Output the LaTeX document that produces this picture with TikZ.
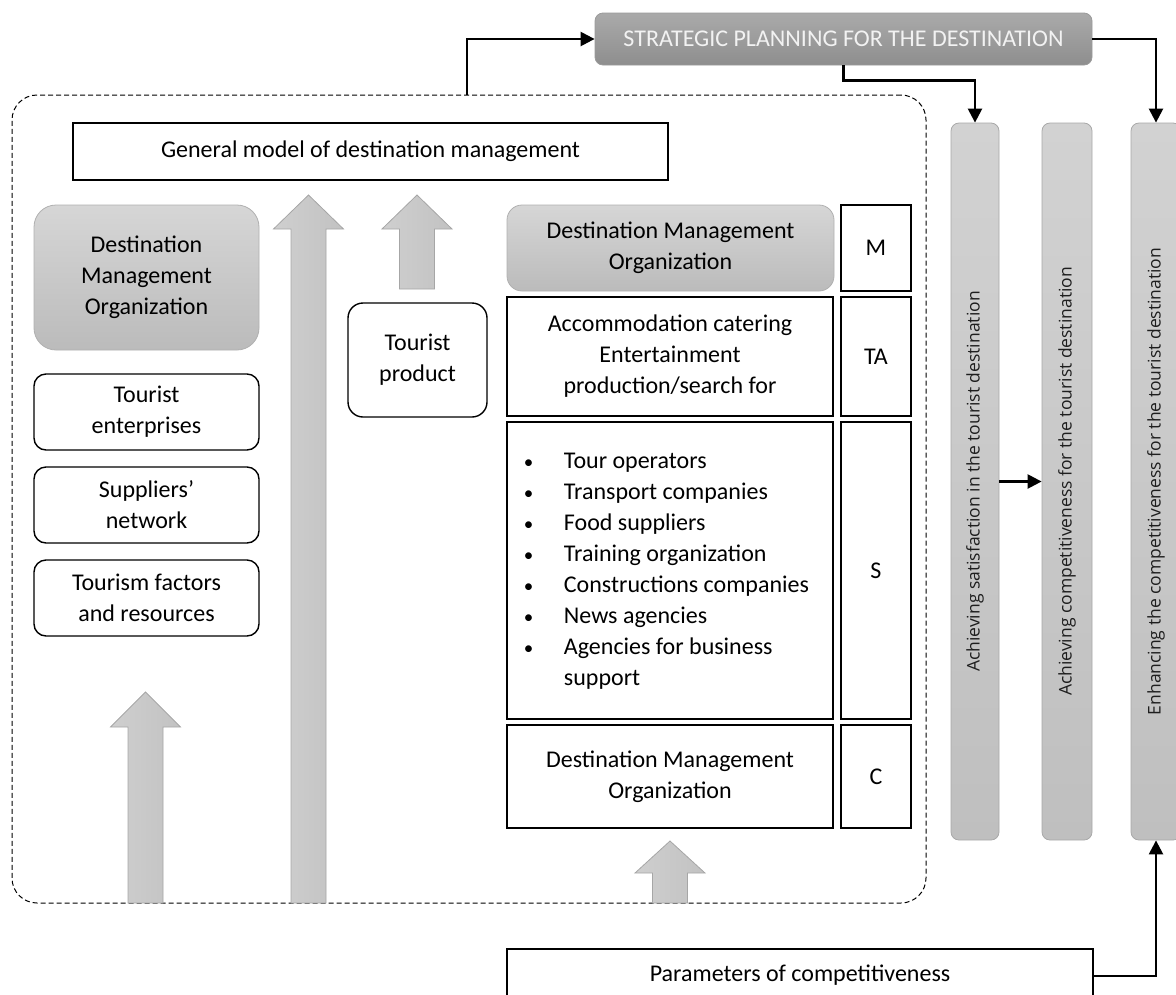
\documentclass[tikz,border=0pt]{standalone}
\usepackage{fontspec}
\setmainfont{Carlito}
\newfontfamily\barfont{Open Sans}
\usetikzlibrary{arrows.meta,calc}
\definecolor{strtop}{HTML}{AAAAAA}
\definecolor{strbot}{HTML}{8E8E8E}
\definecolor{strline}{HTML}{9A9A9A}
\definecolor{gtop}{HTML}{D6D6D6}
\definecolor{gbot}{HTML}{BBBBBB}
\definecolor{gline}{HTML}{B0B0B0}
\definecolor{bartop}{HTML}{D2D2D2}
\definecolor{barbot}{HTML}{BFBFBF}
\definecolor{barline}{HTML}{A8A8A8}
\definecolor{arrl}{HTML}{CFCFCF}
\definecolor{arrr}{HTML}{C2C2C2}
\definecolor{arrline}{HTML}{A6A6A6}
\definecolor{bartext}{HTML}{1E1E1E}
\newcommand\bigarrow[4]{\draw[blockarr] (#1-17.5,#4) -- (#1-17.5,#3) -- (#1-35,#3) -- (#1,#2) -- (#1+35,#3) -- (#1+17.5,#3) -- (#1+17.5,#4) -- cycle;}
\newcommand\bul{{\fontsize{19}{31}\selectfont\textbullet}}
\begin{document}
\begin{tikzpicture}[x=1pt,y=-1pt,
  font=\fontsize{24}{31}\selectfont,
  box/.style={draw=black, line width=1.4pt, fill=white, inner sep=0pt, align=center},
  rbox/.style={box, rounded corners=12pt},
  graybox/.style={draw=gline, line width=0.8pt, top color=gtop, bottom color=gbot, inner sep=0pt, align=center},
  stratbox/.style={draw=strline, line width=0.8pt, top color=strtop, bottom color=strbot, rounded corners=8pt, inner sep=0pt, text=white!95!black},
  bar/.style={draw=barline, line width=0.8pt, top color=bartop, bottom color=barbot, rounded corners=8pt, inner sep=0pt, minimum height=717},
  bartxt/.style={rotate=90, text=bartext, font=\barfont\fontsize{17.5}{20}\selectfont},
  conn/.style={line width=2.4pt, -{Triangle[length=14pt,width=14pt]}},
  blockarr/.style={left color=arrl, right color=arrr, draw=arrline, line width=0.8pt},
  frame/.style={draw=black, line width=1pt, dash pattern=on 5pt off 3pt, rounded corners=25pt, inner sep=0pt}
]
\useasboundingbox (0,0) rectangle (1176,994);

% dashed frame
\node[frame, minimum width=914, minimum height=808] (frame) at (469,499) {};
\coordinate (f1) at (467,95);

% top planning box
\node[stratbox, minimum width=497, minimum height=52] (strat) at (843.5,39) {STRATEGIC PLANNING FOR THE DESTINATION};

% general model
\node[box, minimum width=595, minimum height=57] (gen) at (370.5,151.5) {General model of destination management};

% left column
\node[graybox, rounded corners=22pt, minimum width=225, minimum height=145] (dmoL) at (146.5,277.5) {Destination\\Management\\Organization};
\node[rbox, minimum width=225, minimum height=76] (te) at (146.5,412) {Tourist\\enterprises};
\node[rbox, minimum width=225, minimum height=76] (sn) at (146.5,505) {Suppliers’\\network};
\node[rbox, minimum width=225, minimum height=76] (tf) at (146.5,598) {Tourism factors\\and resources};

% tourist product
\node[box, rounded corners=15pt, minimum width=139, minimum height=114] (tp) at (417.5,360) {Tourist\\product};

% right column
\node[graybox, rounded corners=15pt, minimum width=327, minimum height=86] (dmoR) at (670.5,248) {Destination Management\\Organization};
\node[box, minimum width=70, minimum height=86] (lm) at (876,248) {M};
\node[box, minimum width=326, minimum height=119] (tarow) at (670,356.5) {Accommodation catering\\Entertainment\\production/search for};
\node[box, minimum width=70, minimum height=119] (lta) at (876,356.5) {TA};
\node[box, minimum width=326, minimum height=297] (srow) at (670,570.5) {\begin{tabular}{@{\hspace{-7pt}}p{40pt}@{}l@{}}
\bul & Tour operators\\
\bul & Transport companies\\
\bul & Food suppliers\\
\bul & Training organization\\
\bul & Constructions companies\\
\bul & News agencies\\
\bul & Agencies for business\\
 & support
\end{tabular}};
\node[box, minimum width=70, minimum height=297] (ls) at (876,570.5) {S};
\node[box, minimum width=326, minimum height=103] (crow) at (670,776.5) {Destination Management\\Organization};
\node[box, minimum width=70, minimum height=103] (lc) at (876,776.5) {C};

% block arrows
\bigarrow{145.5}{692}{727}{903}
\bigarrow{308.5}{195}{229}{903}
\bigarrow{417}{195}{229}{289}
\bigarrow{670}{841}{873}{903}

% vertical bars
\node[bar, minimum width=48] (bar1) at (975,481.5) {};
\node[bar, minimum width=50] (bar2) at (1067,481.5) {};
\node[bar, minimum width=50] (bar3) at (1156,481.5) {};
\node[bartxt] (bar1t) at (bar1.center) {Achieving satisfaction in the tourist destination};
\node[bartxt] (bar2t) at (bar2.center) {Achieving competitiveness for the tourist destination};
\node[bartxt] (bar3t) at (bar3.center) {Enhancing the competitiveness for the tourist destination};

% parameters
\node[box, minimum width=586, minimum height=52] (param) at (800,975) {\raisebox{3pt}{Parameters of competitiveness}};

% connectors
\draw[conn] (f1) |- (strat.west);
\draw[conn] (strat.south) -- ++(0,15) -| (bar1.north);
\draw[conn] (strat.east) -| (bar3.north);
\draw[conn] (bar1.east) -- (bar2.west);
\draw[conn] (param.east |- 0,976) -| (bar3.south);
\end{tikzpicture}
\end{document}
